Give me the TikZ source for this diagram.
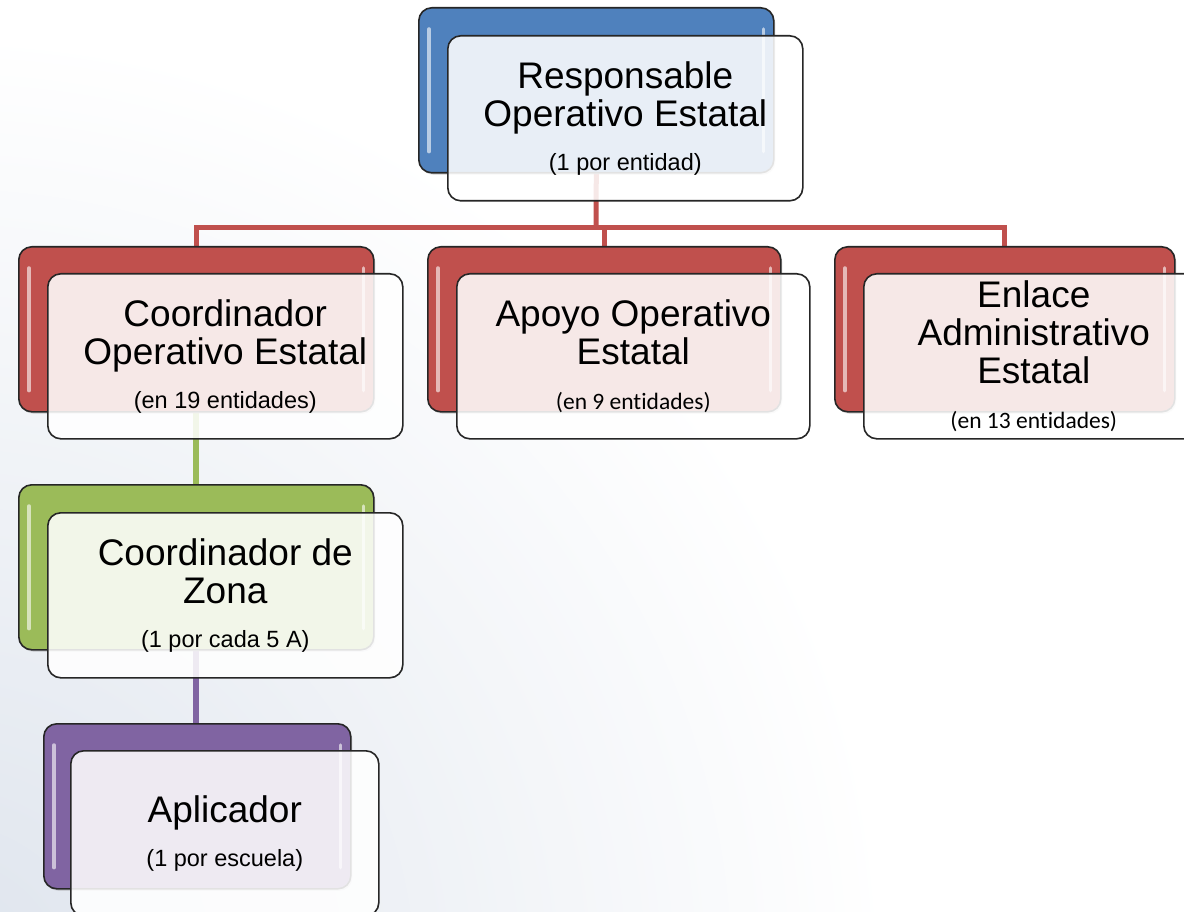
\documentclass[tikz,border=0pt]{standalone}
\usepackage{fontspec}
\setmainfont{Liberation Sans}
\newfontfamily\calib[Ligatures=NoCommon]{Carlito}
\usetikzlibrary{shadows}
\definecolor{cblue}{RGB}{79,129,189}
\definecolor{cred}{RGB}{192,80,77}
\definecolor{cgreen}{RGB}{155,187,89}
\definecolor{cpurple}{RGB}{128,100,162}
\definecolor{bgc}{RGB}{222,228,237}
\newcommand\mainsz{\fontsize{37}{38}\selectfont}
\newcommand\subsz{\fontsize{23.5}{28}\selectfont}
\pgfdeclarelayer{backlayer}
\pgfdeclarelayer{connlayer}
\pgfsetlayers{backlayer,connlayer,main}
\tikzset{
  backbox/.style={rectangle, draw=black!85, line width=1.6pt, rounded corners=13pt,
    inner sep=0pt, anchor=north west, minimum height=165pt,
    drop shadow={opacity=0.25, shadow xshift=1.5pt, shadow yshift=-2pt}},
  frontbox/.style={rectangle, draw=black!85, line width=1.6pt, rounded corners=13pt,
    fill=white, fill opacity=0.87, text opacity=1, inner sep=0pt, anchor=north west,
    align=center, font=\mainsz, minimum height=165pt},
  hl/.style={white, opacity=0.6, line width=3.5pt, line cap=round},
  conn/.style={line width=5pt}
}
\begin{document}
\begin{tikzpicture}[x=1pt,y=-1pt]
\useasboundingbox (0,0) rectangle (1184,912);
\clip (0,0) rectangle (1184,912);
\begin{pgfonlayer}{backlayer}
  \fill[white] (0,0) rectangle (1184,912);
  \shade[inner color=bgc, outer color=white] (-60,980) circle (950);
\end{pgfonlayer}

% Responsable Operativo Estatal
\node[backbox, fill=cblue, minimum width=355pt] (rb) at (418,7) {};
\draw[hl] ([shift={(11,22)}]rb.north west) -- ([shift={(11,-22)}]rb.south west);
\draw[hl] ([shift={(-11,22)}]rb.north east) -- ([shift={(-11,-22)}]rb.south east);
\node[frontbox, minimum width=355pt] (r) at (447,35)
  {Responsable\\Operativo Estatal\\[6.5pt]{\subsz (1 por entidad)}};

% Coordinador Operativo Estatal
\node[backbox, fill=cred, minimum width=355pt] (cb) at (18,246) {};
\draw[hl] ([shift={(11,22)}]cb.north west) -- ([shift={(11,-22)}]cb.south west);
\draw[hl] ([shift={(-11,22)}]cb.north east) -- ([shift={(-11,-22)}]cb.south east);
\node[frontbox, minimum width=355pt] (c) at (47,273)
  {Coordinador\\Operativo Estatal\\[6.5pt]{\subsz (en 19 entidades)}};

% Apoyo Operativo Estatal
\node[backbox, fill=cred, minimum width=353pt] (ab) at (427,246) {};
\draw[hl] ([shift={(11,22)}]ab.north west) -- ([shift={(11,-22)}]ab.south west);
\draw[hl] ([shift={(-11,22)}]ab.north east) -- ([shift={(-11,-22)}]ab.south east);
\node[frontbox, minimum width=353pt] (a) at (456,273)
  {Apoyo Operativo\\Estatal\\[6.5pt]{\calib\subsz (en 9 entidades)}};

% Enlace Administrativo Estatal
\node[backbox, fill=cred, minimum width=340pt] (eb) at (834,246) {};
\draw[hl] ([shift={(11,22)}]eb.north west) -- ([shift={(11,-22)}]eb.south west);
\draw[hl] ([shift={(-11,22)}]eb.north east) -- ([shift={(-11,-22)}]eb.south east);
\node[frontbox, minimum width=340pt] (e) at (863,273)
  {Enlace\\Administrativo\\Estatal\\[6.5pt]{\calib\subsz (en 13 entidades)}};

% Coordinador de Zona
\node[backbox, fill=cgreen, minimum width=355pt] (zb) at (18,484) {};
\draw[hl] ([shift={(11,22)}]zb.north west) -- ([shift={(11,-22)}]zb.south west);
\draw[hl] ([shift={(-11,22)}]zb.north east) -- ([shift={(-11,-22)}]zb.south east);
\node[frontbox, minimum width=355pt] (z) at (47,512)
  {Coordinador de\\Zona\\[6.5pt]{\subsz (1 por cada 5 A)}};

% Aplicador
\node[backbox, fill=cpurple, minimum width=307pt] (pb) at (43,723) {};
\draw[hl] ([shift={(11,22)}]pb.north west) -- ([shift={(11,-22)}]pb.south west);
\draw[hl] ([shift={(-11,22)}]pb.north east) -- ([shift={(-11,-22)}]pb.south east);
\node[frontbox, minimum width=308pt] (p) at (70,750)
  {Aplicador\\[6.5pt]{\subsz (1 por escuela)}};

\begin{pgfonlayer}{connlayer}
  \coordinate (hub) at (596,228);
  \draw[conn, cred] (rb.south) -- (hub);
  \draw[conn, cred] (cb.north) |- (hub);
  \draw[conn, cred] (ab.north) |- (hub);
  \draw[conn, cred] (eb.north) |- (hub);
  \draw[conn, cgreen, line width=6pt] (cb.south) -- (zb.north);
  \draw[conn, cpurple, line width=6pt] (zb.south) -- (zb.south |- pb.north);
\end{pgfonlayer}
\end{tikzpicture}
\end{document}
